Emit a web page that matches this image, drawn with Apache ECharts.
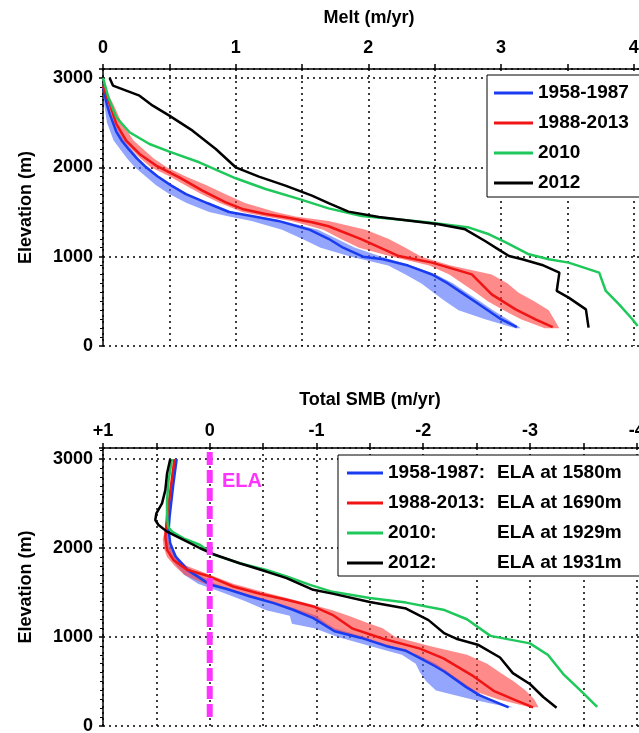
<!DOCTYPE html>
<html>
<head>
<meta charset="utf-8">
<title>Melt and Total SMB profiles</title>
<script src="https://cdn.jsdelivr.net/npm/echarts@6/dist/echarts.min.js"></script>
<style>
  html, body { margin: 0; padding: 0; background: #fff; }
  #main { width: 639px; height: 733px; }
</style>
</head>
<body>
<div id="main"></div>
<script>
var names = ['1958-1987', '1988-2013', '2010', '2012'];
var colors = ['#1a3cf0', '#f01414', '#1ec85a', '#000000'];
var elaText = ['ELA at 1580m', 'ELA at 1690m', 'ELA at 1929m', 'ELA at 1931m'];

// top panel, [melt (m/yr), elevation (m)]
var melt5887 = [[0,2900],[0.03,2700],[0.05,2600],[0.075,2500],[0.10,2400],[0.14,2300],[0.195,2200],[0.255,2100],[0.325,2000],[0.41,1900],[0.51,1800],[0.625,1700],[0.785,1600],[0.95,1500],[1.14,1450],[1.32,1400],[1.56,1300],[1.70,1200],[1.81,1100],[1.96,1000],[2.11,970],[2.30,900],[2.48,800],[2.60,700],[2.70,600],[2.80,500],[2.90,400],[3.0,300],[3.12,210]];
var melt8813 = [[0,2910],[0.05,2709],[0.1,2485],[0.175,2299],[0.275,2149],[0.4,2019],[0.575,1888],[0.75,1739],[0.925,1608],[1.05,1534],[1.225,1478],[1.375,1440],[1.575,1384],[1.70,1340],[1.95,1194],[2.23,1007],[2.48,933],[2.78,802],[2.93,578],[3.11,410],[3.26,299],[3.39,210]];
var melt2010 = [[0,3000],[0.04,2784],[0.1,2560],[0.2,2392],[0.35,2261],[0.5,2175],[0.725,2056],[1.0,1877],[1.225,1757],[1.475,1646],[1.70,1540],[1.95,1455],[2.21,1418],[2.46,1381],[2.76,1325],[2.91,1250],[3.04,1157],[3.21,1026],[3.36,970],[3.51,933],[3.74,821],[3.79,616],[3.89,466],[3.99,299],[4.03,224]];
var melt2012 = [[0.05,3000],[0.075,2914],[0.175,2858],[0.275,2802],[0.375,2690],[0.5,2578],[0.675,2410],[0.85,2205],[1.0,2000],[1.175,1896],[1.375,1795],[1.575,1683],[1.70,1600],[1.85,1504],[2.08,1444],[2.33,1399],[2.53,1362],[2.73,1306],[2.88,1175],[2.98,1082],[3.06,1007],[3.16,970],[3.31,907],[3.44,821],[3.42,616],[3.51,541],[3.64,410],[3.66,205]];

// top panel spread bands
var bandElevTop = [2900,2700,2500,2300,2100,2000,1900,1800,1700,1600,1500,1450,1400,1300,1200,1100,1000,900,800,700,600,500,400,300,200];
var blueLoTop = [0,0.01,0.03,0.08,0.18,0.24,0.32,0.40,0.50,0.63,0.80,0.95,1.12,1.35,1.50,1.64,1.87,2.15,2.28,2.40,2.49,2.58,2.68,2.88,3.11];
var blueHiTop = [0,0.04,0.08,0.16,0.27,0.34,0.42,0.52,0.64,0.80,0.98,1.15,1.36,1.62,1.76,1.90,2.10,2.32,2.51,2.64,2.74,2.84,2.94,3.05,3.15];
var redLoTop = [0,0.03,0.08,0.15,0.28,0.36,0.50,0.62,0.74,0.88,1.05,1.22,1.42,1.66,1.79,1.93,2.18,2.46,2.61,2.71,2.81,2.90,3.02,3.15,3.33];
var redHiTop = [0.01,0.08,0.14,0.23,0.38,0.48,0.62,0.78,0.92,1.07,1.30,1.45,1.70,1.98,2.15,2.28,2.40,2.62,2.93,3.05,3.13,3.25,3.36,3.40,3.44];

// bottom panel, [total SMB (m/yr), elevation (m)]
var smb5887 = [[0.31,3000],[0.34,2727],[0.376,2353],[0.385,2204],[0.37,2054],[0.32,1905],[0.21,1755],[0.09,1662],[0,1590],[-0.16,1540],[-0.38,1456],[-0.60,1381],[-0.78,1307],[-0.97,1213],[-1.17,1065],[-1.42,990],[-1.65,900],[-1.84,845],[-2.1,680],[-2.2,610],[-2.4,440],[-2.53,345],[-2.8,210]];
var smb8813 = [[0.33,3000],[0.36,2727],[0.40,2353],[0.416,2129],[0.40,1979],[0.34,1867],[0.21,1755],[0,1680],[-0.22,1568],[-0.47,1486],[-0.72,1419],[-0.97,1344],[-1.15,1250],[-1.34,1094],[-1.625,981],[-1.97,870],[-2.19,760],[-2.47,560],[-2.66,395],[-2.875,285],[-3.03,210]];
var smb2010 = [[0.354,3000],[0.385,2764],[0.40,2540],[0.40,2353],[0.39,2241],[0.354,2185],[0.245,2110],[0.09,2035],[-0.03,1929],[-0.28,1830],[-0.53,1755],[-0.72,1680],[-0.94,1587],[-1.15,1508],[-1.5,1440],[-1.84,1387],[-2.2,1303],[-2.41,1200],[-2.63,1013],[-3.0,929],[-3.17,798],[-3.32,574],[-3.5,370],[-3.63,215]];
var smb2012 = [[0.37,3000],[0.40,2839],[0.416,2652],[0.447,2503],[0.5,2391],[0.51,2316],[0.48,2260],[0.40,2185],[0.245,2092],[0.09,1998],[-0.035,1931],[-0.28,1830],[-0.53,1736],[-0.72,1662],[-0.97,1531],[-1.15,1488],[-1.5,1393],[-1.84,1320],[-2.05,1190],[-2.2,1040],[-2.31,981],[-2.52,910],[-2.72,770],[-2.84,594],[-3.0,472],[-3.125,326],[-3.25,205]];

// bottom panel spread bands
var bandElevBot = [3000,2800,2600,2400,2200,2100,2000,1900,1800,1700,1600,1500,1400,1300,1240,1150,1100,1000,900,800,700,600,500,400,300,210];
var blueLeftBot = [0.33,0.35,0.37,0.39,0.40,0.42,0.41,0.37,0.31,0.24,0.11,-0.12,-0.34,-0.53,-0.75,-0.77,-0.98,-1.2,-1.5,-1.8,-1.93,-1.97,-2.03,-2.12,-2.45,-2.8];
var blueRightBot = [0.30,0.33,0.35,0.37,0.38,0.37,0.35,0.30,0.22,0.10,-0.05,-0.30,-0.60,-0.85,-1.0,-1.1,-1.17,-1.45,-1.70,-1.95,-2.12,-2.24,-2.36,-2.48,-2.62,-2.84];
var redLeftBot = [0.34,0.36,0.38,0.40,0.42,0.44,0.43,0.40,0.33,0.24,0.05,-0.25,-0.55,-0.80,-0.92,-1.05,-1.12,-1.38,-1.65,-1.92,-2.08,-2.2,-2.33,-2.46,-2.7,-3.0];
var redRightBot = [0.32,0.34,0.36,0.38,0.39,0.39,0.37,0.31,0.22,0.0,-0.22,-0.52,-0.85,-1.15,-1.3,-1.5,-1.62,-1.74,-2.06,-2.41,-2.6,-2.72,-2.85,-2.96,-3.04,-3.08];

var elaLine = [[0,3080],[0,90]];

var font = 'Liberation Sans, Arial, sans-serif';
var dotted = {show: true, lineStyle: {color: '#000', type: [2, 4], width: 1.5}};

function isInt(v) { return Math.abs(v - Math.round(v)) < 1e-6; }

function xAx(grid, min, max, inverse, margin, fmt) {
  return {
    type: 'value', gridIndex: grid, position: 'top', min: min, max: max, interval: 0.5, inverse: inverse,
    axisLine: {show: true, onZero: false, lineStyle: {color: '#000', width: 1.5}},
    axisTick: {show: true, length: 5, lineStyle: {color: '#000', width: 1.5}},
    axisLabel: {margin: margin, color: '#000', fontSize: 18, fontWeight: 'bold', fontFamily: font, formatter: fmt},
    splitLine: dotted
  };
}
function yAx(grid, max) {
  return {
    type: 'value', gridIndex: grid, min: 0, max: max, interval: 1000,
    name: 'Elevation (m)', nameLocation: 'middle', nameGap: 68, nameRotate: 90,
    nameTextStyle: {fontSize: 18, fontWeight: 'bold', color: '#000', fontFamily: font},
    axisLine: {show: true, onZero: false, lineStyle: {color: '#000', width: 1.5}},
    axisTick: {show: true, length: 4, lineStyle: {color: '#000', width: 1.5}},
    minorTick: {show: true, splitNumber: 10, length: 3, lineStyle: {color: '#000'}},
    axisLabel: {margin: 10, color: '#000', fontSize: 18, fontWeight: 'bold', fontFamily: font,
      formatter: function (v) { return v % 1000 === 0 ? String(v) : ''; }},
    splitLine: dotted
  };
}

function ring(elev, a, b) {
  var pts = [];
  for (var i = 0; i < elev.length; i++) pts.push([a[i], elev[i]]);
  for (var j = elev.length - 1; j >= 0; j--) pts.push([b[j], elev[j]]);
  return pts;
}
function band(name, idx, pts, fill) {
  return {
    type: 'custom', name: name, xAxisIndex: idx, yAxisIndex: idx, data: pts, z: 1, silent: true,
    encode: {x: 0, y: 1},
    renderItem: function (params, api) {
      if (params.dataIndex !== 0) return null;
      return {type: 'polygon', shape: {points: pts.map(function (p) { return api.coord(p); })}, style: {fill: fill}};
    }
  };
}
function line(name, idx, data, color) {
  return {
    type: 'line', name: name, xAxisIndex: idx, yAxisIndex: idx, data: data, z: 2,
    symbol: 'none', showSymbol: false, itemStyle: {color: color},
    lineStyle: {color: color, width: 2.5}
  };
}

var topSets = [melt5887, melt8813, melt2010, melt2012];
var botSets = [smb5887, smb8813, smb2010, smb2012];
var botNames = names.map(function (n) { return n + ':'; });

var series = [
  band('spread 1958-1987 melt', 0, ring(bandElevTop, blueHiTop, blueLoTop), 'rgba(80,110,250,0.62)'),
  band('spread 1988-2013 melt', 0, ring(bandElevTop, redHiTop, redLoTop), 'rgba(255,60,60,0.6)'),
  band('spread 1958-1987 smb', 1, ring(bandElevBot, blueRightBot, blueLeftBot), 'rgba(80,110,250,0.62)'),
  band('spread 1988-2013 smb', 1, ring(bandElevBot, redRightBot, redLeftBot), 'rgba(255,60,60,0.6)')
];
for (var k = 0; k < 4; k++) {
  series.push(line(names[k], 0, topSets[k], colors[k]));
  series.push(line(botNames[k], 1, botSets[k], colors[k]));
}
series.push({
  type: 'line', name: 'ELA', xAxisIndex: 1, yAxisIndex: 1, data: elaLine, z: 3,
  symbol: 'none', lineStyle: {color: '#ff33ff', width: 6, type: [13, 5]}
});

var legendText = {fontSize: 19, fontWeight: 'bold', color: '#000', fontFamily: font, lineHeight: 20};

var option = {
  animation: false,
  backgroundColor: '#fff',
  grid: [
    {left: 103, top: 69, width: 597, height: 277, outerBoundsMode: 'none', containLabel: false},
    {left: 103, top: 448, width: 587, height: 278, outerBoundsMode: 'none', containLabel: false}
  ],
  xAxis: [
    xAx(0, 0, 4.5, false, 12, function (v) { return isInt(v) && v <= 4 ? String(v) : ''; }),
    xAx(1, -4.5, 1, true, 8, function (v) {
      if (!isInt(v) || v < -4) return '';
      return v > 0 ? '+' + v : String(v);
    })
  ],
  yAxis: [yAx(0, 3100), yAx(1, 3125)],
  legend: [
    {
      orient: 'vertical', left: 487, top: 75, data: names, selectedMode: false,
      icon: 'rect', itemWidth: 39, itemHeight: 3, itemGap: 10,
      backgroundColor: '#fff', borderColor: '#000', borderWidth: 1, borderRadius: 0,
      padding: [8, 40, 4, 7], textStyle: legendText
    },
    {
      orient: 'vertical', left: 338, top: 455, data: botNames, selectedMode: false,
      icon: 'rect', itemWidth: 36, itemHeight: 3, itemGap: 10,
      backgroundColor: '#fff', borderColor: '#000', borderWidth: 1, borderRadius: 0,
      padding: [8, 40, 3, 9],
      formatter: function (n) {
        return '{a|' + n + '}{b|' + elaText[botNames.indexOf(n)] + '}';
      },
      textStyle: {
        fontSize: 19, fontWeight: 'bold', color: '#000', fontFamily: font, lineHeight: 20,
        rich: {
          a: {width: 109, fontSize: 19, fontWeight: 'bold', color: '#000', fontFamily: font, lineHeight: 20},
          b: {fontSize: 19, fontWeight: 'bold', color: '#000', fontFamily: font, lineHeight: 20}
        }
      }
    }
  ],
  graphic: [
    {type: 'text', x: 369, y: 18, z: 10,
      style: {text: 'Melt (m/yr)', fill: '#000', font: 'bold 18px ' + font, textAlign: 'center', textVerticalAlign: 'middle'}},
    {type: 'text', x: 370, y: 400, z: 10,
      style: {text: 'Total SMB (m/yr)', fill: '#000', font: 'bold 18px ' + font, textAlign: 'center', textVerticalAlign: 'middle'}},
    {type: 'text', x: 222, y: 481, z: 10,
      style: {text: 'ELA', fill: '#ff33ff', font: 'bold 20px ' + font, textAlign: 'left', textVerticalAlign: 'middle'}}
  ],
  series: series
};

var myChart = echarts.init(document.getElementById('main'));
myChart.setOption(option);
</script>
</body>
</html>
